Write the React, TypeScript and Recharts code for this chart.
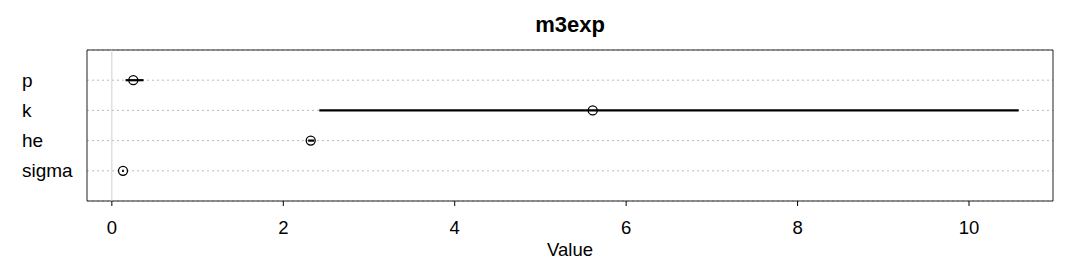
import {
  ScatterChart,
  Scatter,
  XAxis,
  YAxis,
  CartesianGrid,
  ErrorBar,
  ReferenceLine,
  ReferenceArea,
} from 'recharts';

const params = ['p', 'k', 'he', 'sigma'];
const estimates = [0.25, 5.61, 2.32, 0.13];
const lower = [0.16, 2.42, 2.29, 0.12];
const upper = [0.37, 10.58, 2.36, 0.14];
const xTicks = [0, 2, 4, 6, 8, 10];

const X_MIN = -0.29;
const X_MAX = 10.98;

const data = params.map((name, i) => ({
  name,
  x: estimates[i],
  y: i + 1,
  err: [estimates[i] - lower[i], upper[i] - estimates[i]],
}));

const OpenCircle = (props: any) => {
  const { cx, cy } = props;
  return <circle cx={cx} cy={cy} r={4.5} fill='none' stroke='#000' strokeWidth={1.3} />;
};

const NameTick = (props: any) => {
  const { y, payload } = props;
  return (
    <text x={22} y={y} dy='0.35em' textAnchor='start' fontSize={19} fill='#000'>
      {params[payload.value - 1]}
    </text>
  );
};

export default function App() {
  return (
    <div
      style={{
        position: 'absolute',
        left: 0,
        top: 0,
        width: 1080,
        height: 264,
        background: '#fff',
        fontFamily: '"Liberation Sans", Arial, sans-serif',
      }}
    >
      <div
        style={{
          position: 'absolute',
          left: 87,
          width: 966,
          top: 12,
          textAlign: 'center',
          fontWeight: 'bold',
          fontSize: 22,
          color: '#000',
        }}
      >
        m3exp
      </div>
      <ScatterChart width={1080} height={264} margin={{ top: 50, right: 27, left: 0, bottom: 0 }}>
        <CartesianGrid vertical={false} stroke='#bbb' strokeDasharray='2 3' />
        <XAxis
          type='number'
          dataKey='x'
          domain={[X_MIN, X_MAX]}
          ticks={xTicks}
          allowDataOverflow
          height={63}
          axisLine={false}
          tickLine={{ stroke: '#000' }}
          tickSize={5}
          tickMargin={15}
          tick={{ fontSize: 18.5, fill: '#000' }}
          label={{ value: 'Value', position: 'insideBottom', offset: 8, fontSize: 18.5, fill: '#000' }}
        />
        <YAxis
          type='number'
          dataKey='y'
          domain={[0, 5]}
          reversed
          ticks={[1, 2, 3, 4]}
          width={87}
          axisLine={false}
          tickLine={false}
          tick={<NameTick />}
        />
        <ReferenceLine x={0} stroke='#d0d0d0' />
        <ReferenceArea x1={X_MIN} x2={X_MAX} y1={0} y2={5} fill='none' stroke='#222' strokeWidth={1} />
        <Scatter data={data} shape={<OpenCircle />} isAnimationActive={false}>
          <ErrorBar dataKey='err' direction='x' width={0} stroke='#000' strokeWidth={2.2} />
        </Scatter>
      </ScatterChart>
    </div>
  );
}
